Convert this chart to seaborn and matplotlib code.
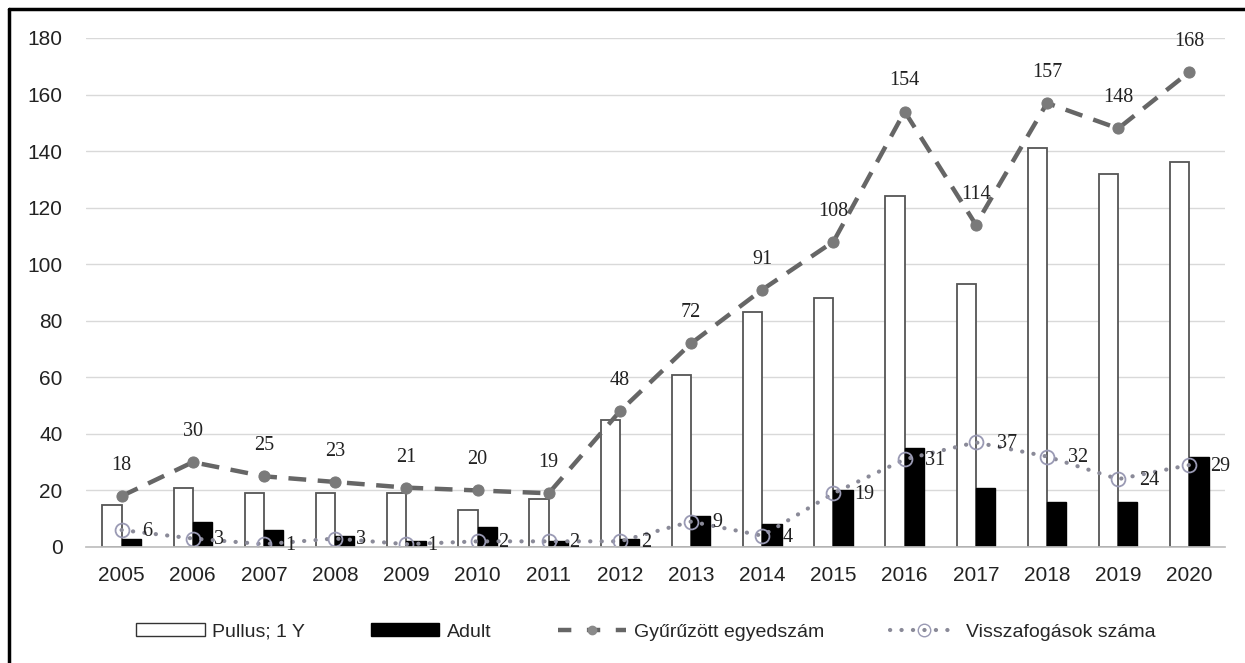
import numpy as np
import pandas as pd
import matplotlib
matplotlib.use("Agg")
import matplotlib.pyplot as plt
from matplotlib.lines import Line2D
from matplotlib.patches import Patch
from matplotlib import font_manager
import seaborn as sns

years = ["2005", "2006", "2007", "2008", "2009", "2010", "2011", "2012",
         "2013", "2014", "2015", "2016", "2017", "2018", "2019", "2020"]
pullus = [15, 21, 19, 19, 19, 13, 17, 45, 61, 83, 88, 124, 93, 141, 132, 136]
adult = [3, 9, 6, 4, 2, 7, 2, 3, 11, 8, 20, 35, 21, 16, 16, 32]
ringed = [18, 30, 25, 23, 21, 20, 19, 48, 72, 91, 108, 154, 114, 157, 148, 168]
recaptured = [6, 3, 1, 3, 1, 2, 2, 2, 9, 4, 19, 31, 37, 32, 24, 29]
series_names = ["Pullus; 1 Y", "Adult", "Gyűrűzött egyedszám", "Visszafogások száma"]

sns.set_theme(style="white")
plt.rcParams["font.family"] = ["Liberation Sans", "DejaVu Sans"]

installed = {f.name for f in font_manager.fontManager.ttflist}
legend_family = ["Liberation Sans Narrow"] if "Liberation Sans Narrow" in installed else ["Liberation Sans"]
legend_family = legend_family + ["DejaVu Sans"]

W, H = 1245, 663
fig = plt.figure(figsize=(W / 100, H / 100), dpi=100)
ax = fig.add_axes([86 / W, 1 - 547 / H, (1225 - 86) / W, (547 - 38) / H])

df = pd.DataFrame({
    "year": years * 2,
    "value": pullus + adult,
    "kind": [series_names[0]] * len(years) + [series_names[1]] * len(years),
})
sns.barplot(data=df, x="year", y="value", hue="kind", order=years,
            hue_order=series_names[:2], palette=["white", "black"],
            width=0.54, gap=0.0, edgecolor="black", linewidth=1.0,
            legend=False, ax=ax)
for p in ax.patches:
    if p.get_facecolor()[0] > 0.5:
        p.set_edgecolor("#555555")
        p.set_linewidth(1.3)

xpos = np.arange(len(years))
sns.lineplot(x=xpos, y=ringed, ax=ax, color="#666666", linewidth=3.2,
             linestyle=(0, (4, 2.6)), marker="o", markersize=8,
             markeredgecolor="#7a7a7a", markerfacecolor="#7a7a7a")
sns.lineplot(x=xpos, y=recaptured, ax=ax, color="#8a8a98", linewidth=3.0,
             linestyle=(0, (0.05, 2.7)), dash_capstyle="round",
             marker="o", markersize=10,
             markerfacecolor="none", markeredgecolor="#9a9ab4",
             markeredgewidth=1.3)

label_font = ["Liberation Serif", "DejaVu Serif"]
for i, v in enumerate(ringed):
    ax.annotate(str(v), (i, v), xytext=(0, 22), textcoords="offset points",
                ha="center", va="center", fontsize=14.5, color="#222222",
                family=label_font)
for i, v in enumerate(recaptured):
    ax.annotate(str(v), (i, v), xytext=(15, -1), textcoords="offset points",
                ha="left", va="center", fontsize=14.5, color="#222222",
                family=label_font)

ax.set_xlim(-0.5, len(years) - 0.5)
ax.set_ylim(0, 180)
ax.set_yticks(np.arange(0, 181, 20))
ax.grid(axis="y", color="#d9d9d9", linewidth=1)
ax.set_axisbelow(True)
for s in ["top", "right", "left"]:
    ax.spines[s].set_visible(False)
ax.spines["bottom"].set_color("#bfbfbf")
ax.set_xlabel("")
ax.set_ylabel("")
ax.tick_params(axis="y", labelsize=15, colors="#222222", pad=17, length=0)
ax.tick_params(axis="x", labelsize=15, colors="#222222", pad=14, length=0)

handles = [
    Patch(facecolor="white", edgecolor="#333333", linewidth=1.0),
    Patch(facecolor="black", edgecolor="black"),
    Line2D([], [], color="#666666", linewidth=3.2, linestyle=(0, (3, 3.5)),
           marker="o", markersize=6, markerfacecolor="#8a8a8a", markeredgecolor="#8a8a8a"),
    Line2D([], [], color="#8a8a98", linewidth=3.0, linestyle=(0, (0.05, 2.7)),
           dash_capstyle="round",
           marker="o", markersize=9, markerfacecolor="none", markeredgecolor="#9a9ab4"),
]
fig.legend(handles, series_names, loc="center", bbox_to_anchor=(646 / W, 1 - 632 / H),
           ncol=4, frameon=False, handlelength=3.5, handleheight=0.6,
           columnspacing=3.4, handletextpad=0.4,
           prop={"family": legend_family, "size": 14})

# outer frame (left and top edges visible)
fig.add_artist(Line2D([9 / W, 9 / W], [0, 1 - 9 / H], transform=fig.transFigure,
                      color="black", linewidth=2.5))
fig.add_artist(Line2D([9 / W, 1], [1 - 9 / H, 1 - 9 / H], transform=fig.transFigure,
                      color="black", linewidth=2.5))

fig.savefig("out.png", dpi=100)
